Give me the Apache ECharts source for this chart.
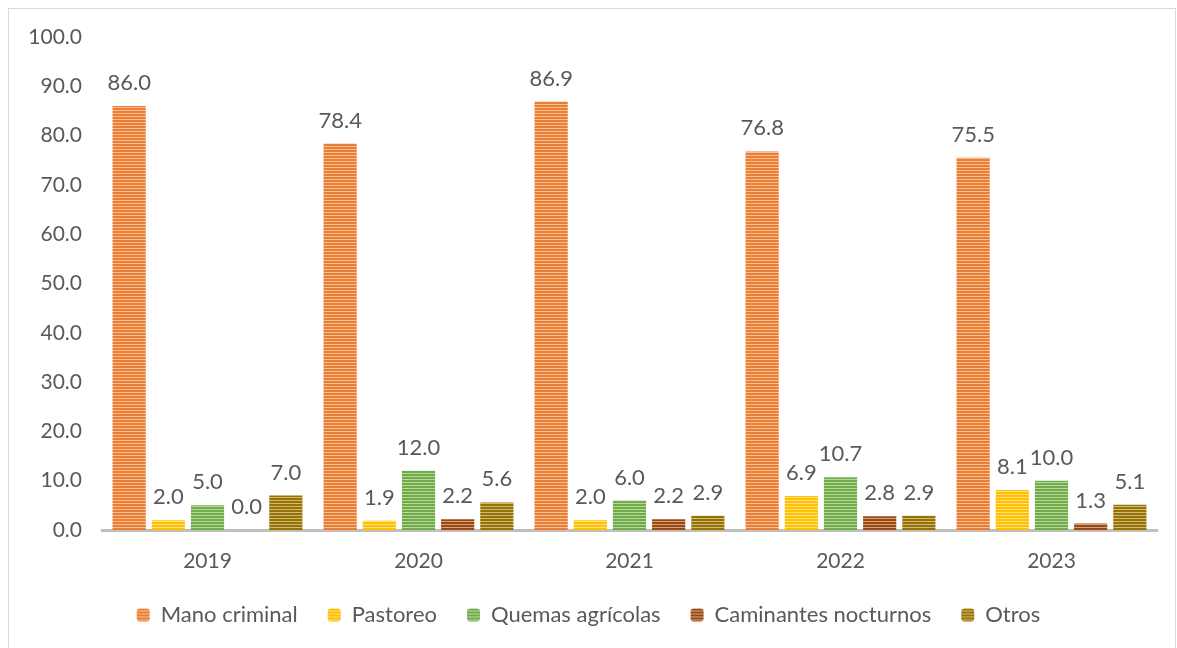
<!DOCTYPE html>
<html>
<head>
<meta charset="utf-8">
<script src="https://cdn.jsdelivr.net/npm/echarts@6/dist/echarts.min.js"></script>
<style>
  html, body { margin: 0; padding: 0; background: #fff; }
  #frame { position: absolute; left: 8px; top: 8px; width: 1168px; height: 648px; border: 1px solid #d9d9d9; box-sizing: border-box; }
  #main { width: 1177px; height: 648px; }
</style>
</head>
<body>
<div id="frame"></div>
<div id="main"></div>
<script>
// años
var years = ['2019', '2020', '2021', '2022', '2023'];
// valores por causa (%)
var manoCriminal = [86.0, 78.4, 86.9, 76.8, 75.5];
var pastoreo = [2.0, 1.9, 2.0, 6.9, 8.1];
var quemasAgricolas = [5.0, 12.0, 6.0, 10.7, 10.0];
var caminantesNocturnos = [0.0, 2.2, 2.2, 2.8, 1.3];
var otros = [7.0, 5.6, 2.9, 2.9, 5.1];

var seriesNames = ['Mano criminal', 'Pastoreo', 'Quemas agrícolas', 'Caminantes nocturnos', 'Otros'];
var seriesData = [manoCriminal, pastoreo, quemasAgricolas, caminantesNocturnos, otros];
var colors = ['#ED7D31', '#FFC000', '#70AD47', '#9E480E', '#997300'];
var lightColors = ['#F6BE98', '#FFDF80', '#B7D6A3', '#CEA386', '#CCB980'];

// relleno rayado horizontal como en Excel
function stripes(c, l) {
    var cv = document.createElement('canvas');
    cv.width = 4; cv.height = 3;
    var ctx = cv.getContext('2d');
    ctx.fillStyle = c; ctx.fillRect(0, 0, 4, 2);
    ctx.fillStyle = l; ctx.fillRect(0, 2, 4, 1);
    return { image: cv, repeat: 'repeat' };
}

var font = 'Lato, "Open Sans", sans-serif';
var myChart = echarts.init(document.getElementById('main'));
myChart.setOption({
    animation: false,
    textStyle: { fontFamily: font },
    color: colors,
    legend: {
        bottom: 17,
        left: 'center',
        itemWidth: 13,
        itemHeight: 13,
        itemGap: 30,
        textStyle: { fontSize: 22, color: '#595959', fontFamily: font, padding: [0, 0, 0, 6] },
        data: seriesNames
    },
    grid: { left: 102, right: 20, top: 37, bottom: 118 },
    xAxis: {
        type: 'category',
        data: years,
        axisTick: { show: false },
        axisLine: { lineStyle: { color: '#BFBFBF', width: 3 } },
        axisLabel: { fontSize: 21, color: '#595959', margin: 21 }
    },
    yAxis: {
        type: 'value',
        min: 0,
        max: 100,
        interval: 10,
        splitLine: { show: false },
        axisLabel: {
            fontSize: 21, color: '#595959', margin: 20,
            formatter: function (v) { return v.toFixed(1); }
        }
    },
    series: seriesData.map(function (d, i) {
        return {
            name: seriesNames[i],
            type: 'bar',
            data: d,
            barGap: '18%',
            barCategoryGap: '10%',
            itemStyle: { color: stripes(colors[i], lightColors[i]) },
            label: {
                show: true,
                position: 'top',
                distance: 12,
                fontSize: 22,
                color: '#595959',
                formatter: function (p) { return p.value.toFixed(1); }
            }
        };
    })
});
</script>
</body>
</html>
